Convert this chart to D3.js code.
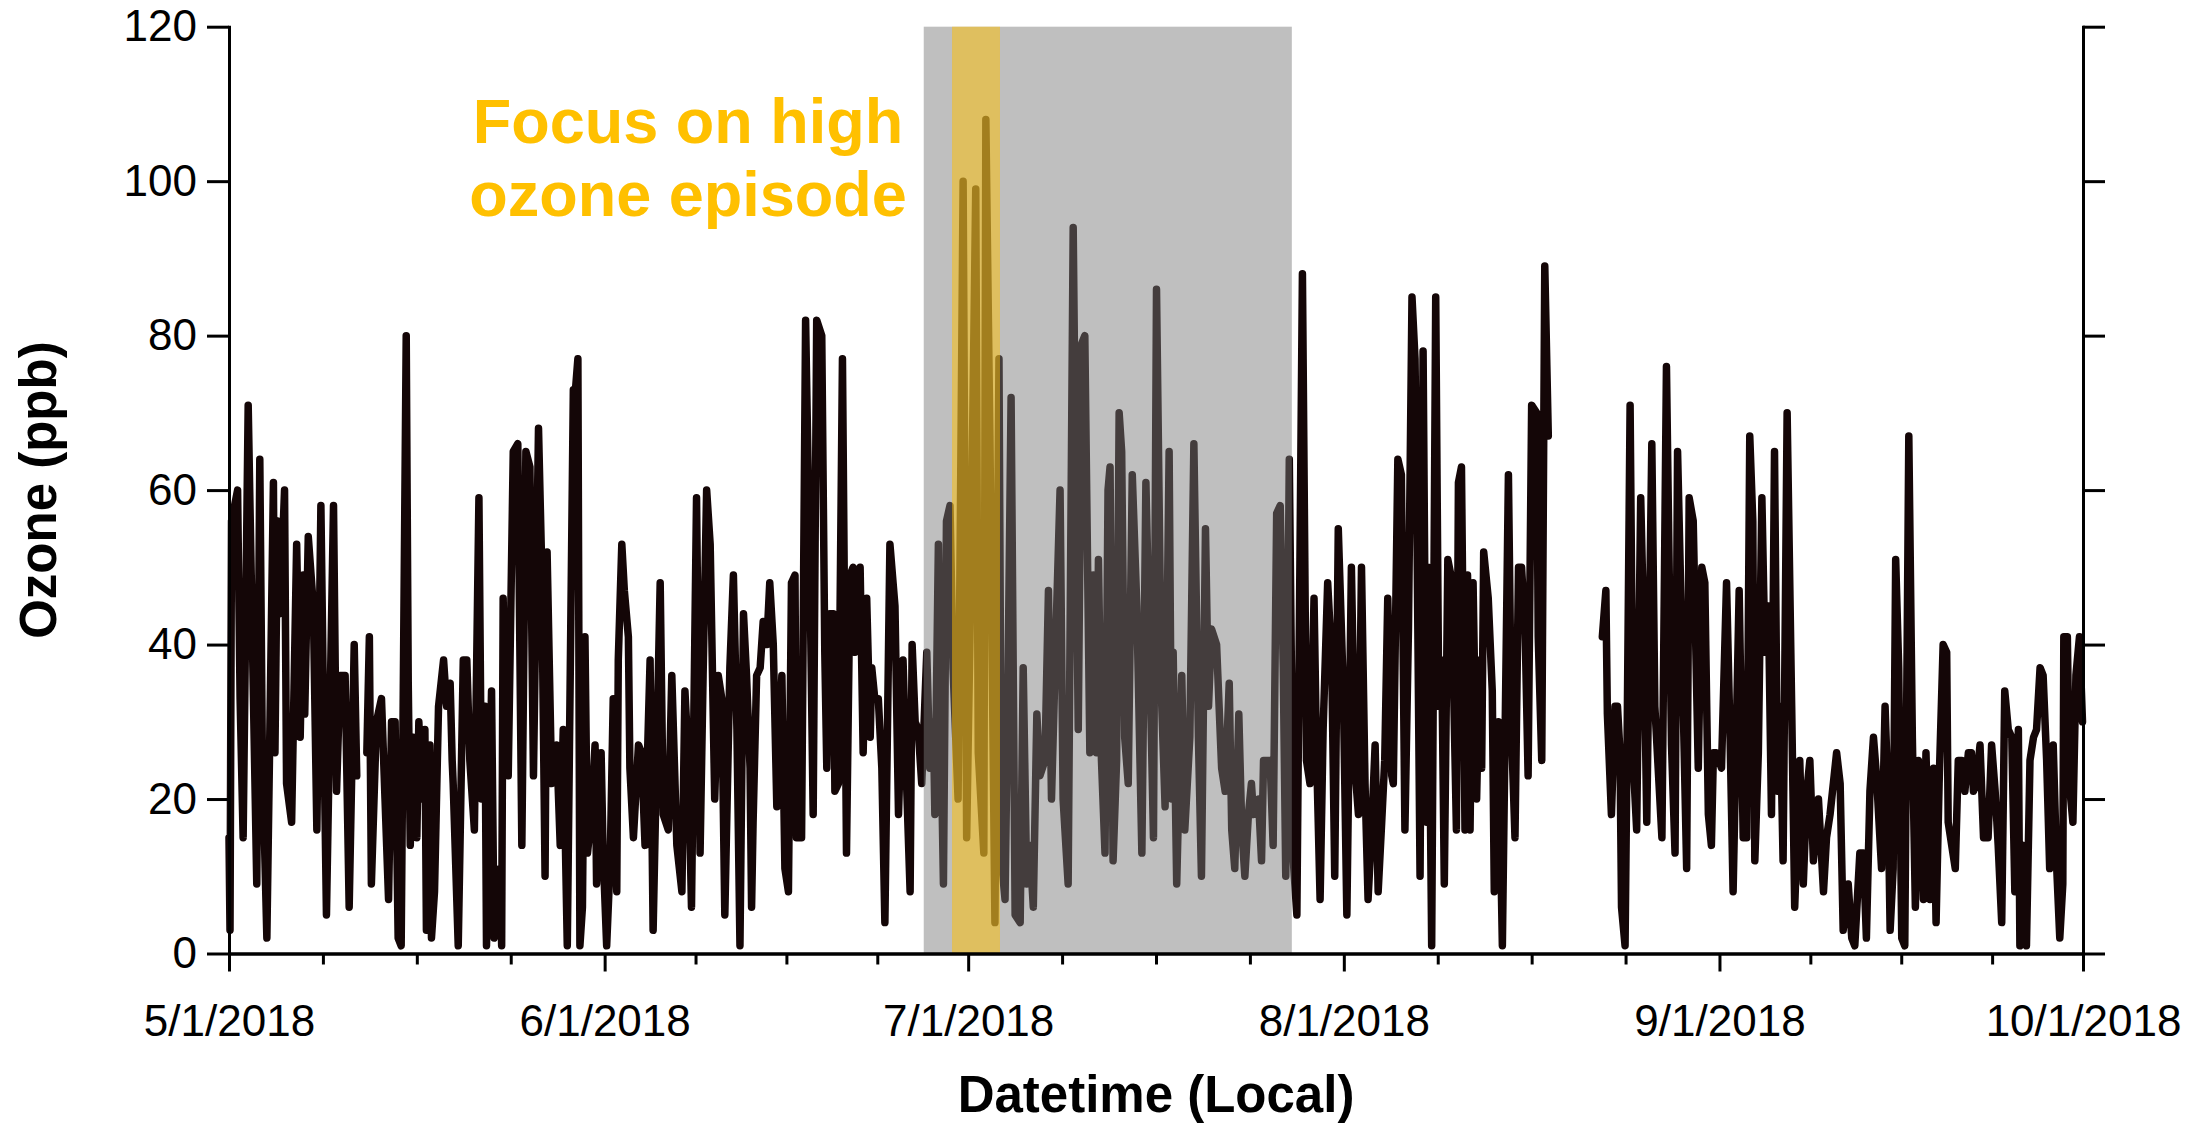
<!DOCTYPE html>
<html>
<head>
<meta charset="utf-8">
<script src="https://cdn.jsdelivr.net/npm/d3@7"></script>
<style>
  html, body { margin: 0; padding: 0; background: #fff; }
  svg { display: block; }
</style>
</head>
<body>
<svg id="chart" width="2202" height="1124"></svg>
<script>
// Ozone trace, summer 2018: [hours since 2018-05-01 00:00, ppb]; null marks a data gap.
const ozoneTrace = [
  [0,15],[2,3],[5,56],[17,60],[22,33],[28,15],[38,71],[44,49],[55,9],[61,64],[66,26],[75,2],[88,61],[91,26],[96,56],[101,44],
  [110,60],[114,22],[124,17],[134,53],[141,28],[147,49],[150,31],[157,54],[167,45],[174,16],[182,58],[187,33],[193,5],[207,58],
  [213,21],[220,36],[230,36],[238,6],[248,40],[253,23],[256,null],
  [273,26],[278,41],[282,9],[292,30],[302,33],[309,20],[316,7],[322,30],[329,30],[335,2],[341,1],[351,80],[355,35],[359,14],
  [365,28],[372,15],[376,30],[382,20],[388,29],[391,3],[398,27],[401,2],[407,8],[415,32],[425,38],[431,32],[438,35],[442,25],
  [444,22],[454,1],[464,38],[471,38],[477,25],[486,16],[495,59],[500,20],[507,32],[510,1],[520,34],[525,2],[537,11],[540,1],
  [543,46],[547,29],[553,23],[563,65],[572,66],[580,14],[588,65],[596,63],[603,23],[613,68],[619,51],[626,10],[630,52],[639,22],
  [649,27],[656,14],[662,29],[670,1],[682,73],[685,72],[691,77],[695,1],[700,6],[705,41],[710,13],[718,18],[725,27],[728,9],
  [737,26],[741,13],[748,1],[755,12],[761,33],[768,8],[771,38],[778,53],[783,47],[791,41],[794,24],[801,15],[811,27],[817,26],
  [824,14],[834,38],[840,3],[854,48],[860,18],[870,16],[877,36],[887,14],[897,8],[903,34],[910,25],[916,6],[926,59],[933,13],
  [939,36],[946,60],[953,53],[962,20],[969,36],[976,33],[982,5],[992,37],[999,49],[1006,29],[1012,1],[1019,44],[1025,36],[1032,24],
  [1035,6],[1038,17],[1045,36],[1052,37],[1058,43],[1065,40],[1071,48],[1078,40],[1085,19],[1095,36],[1101,11],[1108,8],[1114,48],
  [1121,49],[1124,15],[1134,15],[1142,82],[1151,47],[1157,18],[1164,82],[1174,80],[1180,39],[1184,24],[1190,44],[1197,44],[1200,21],
  [1207,22],[1215,77],[1223,13],[1230,49],[1236,50],[1240,39],[1250,50],[1256,26],[1263,46],[1270,28],[1273,37],[1279,33],[1286,33],
  [1293,24],[1299,4],[1309,53],[1319,45],[1326,18],[1335,38],[1342,22],[1349,8],[1353,40],[1359,30],[1365,29],[1372,22],[1375,27],
  [1382,39],[1388,24],[1395,30],[1398,18],[1405,53],[1408,36],[1415,9],[1421,56],[1428,58],[1434,37],[1444,20],[1454,100],[1461,15],
  [1468,43],[1479,99],[1484,26],[1495,13],[1499,108],[1507,67],[1517,4],[1525,77],[1530,12],[1537,7],[1543,36],[1549,72],[1557,5],
  [1567,4],[1573,37],[1580,9],[1586,14],[1593,6],[1600,31],[1606,23],[1616,25],[1623,47],[1629,20],[1639,44],[1646,60],[1652,20],
  [1662,9],[1672,94],[1682,29],[1689,79],[1695,80],[1705,26],[1712,49],[1718,26],[1722,51],[1728,25],[1735,13],[1741,60],[1745,63],
  [1751,12],[1758,25],[1763,70],[1768,65],[1774,28],[1781,22],[1789,62],[1798,45],[1808,13],[1816,61],[1824,37],[1831,15],[1837,86],
  [1847,33],[1854,19],[1862,65],[1867,20],[1870,39],[1877,9],[1887,36],[1893,16],[1903,28],[1911,66],[1920,28],[1926,10],[1934,55],
  [1940,32],[1946,42],[1956,40],[1966,24],[1973,21],[1981,35],[1986,16],[1992,11],[2000,31],[2006,16],[2012,10],[2019,18],[2025,22],
  [2029,18],[2039,20],[2045,12],[2049,25],[2058,25],[2062,25],[2068,14],[2075,57],[2082,58],[2088,37],[2093,10],[2100,64],[2108,12],
  [2115,5],[2126,88],[2134,25],[2141,22],[2149,46],[2154,26],[2161,7],[2167,29],[2176,48],[2184,38],[2190,10],[2197,55],[2207,34],
  [2214,5],[2223,50],[2230,24],[2237,18],[2243,50],[2250,22],[2256,7],[2263,16],[2270,27],[2276,8],[2283,17],[2289,25],[2295,46],
  [2303,23],[2306,22],[2315,64],[2322,62],[2329,16],[2336,42],[2343,85],[2349,77],[2352,61],[2359,10],[2365,78],[2372,17],[2375,50],
  [2382,1],[2390,85],[2396,32],[2402,38],[2407,9],[2414,51],[2420,49],[2425,36],[2431,16],[2435,61],[2441,63],[2448,16],[2453,49],
  [2458,16],[2464,48],[2471,20],[2477,38],[2481,24],[2485,52],[2494,46],[2502,34],[2506,8],[2514,30],[2522,1],[2534,62],[2540,29],
  [2547,15],[2554,50],[2560,50],[2567,42],[2573,23],[2580,71],[2590,70],[2593,41],[2600,25],[2606,89],[2613,67],[2614,null],
  [2720,41],[2727,47],[2730,31],[2738,18],[2745,32],[2750,32],[2755,26],[2758,6],[2765,1],[2768,20],[2775,71],[2781,25],[2788,16],
  [2796,59],[2803,39],[2808,17],[2818,66],[2824,32],[2838,15],[2847,76],[2857,27],[2864,13],[2869,65],[2877,42],[2887,11],[2892,59],
  [2900,56],[2910,24],[2917,50],[2923,48],[2930,18],[2936,14],[2940,26],[2946,26],[2956,24],[2966,48],[2973,28],[2979,8],[2991,47],
  [2999,15],[3006,15],[3012,67],[3018,56],[3022,12],[3029,26],[3036,59],[3042,39],[3049,45],[3055,18],[3061,65],[3067,21],[3072,32],
  [3078,12],[3086,70],[3095,32],[3101,6],[3111,25],[3118,9],[3125,21],[3131,25],[3138,12],[3148,20],[3158,8],[3164,15],[3171,18],
  [3184,26],[3191,22],[3197,3],[3207,9],[3214,2],[3220,1],[3230,13],[3237,13],[3243,2],[3250,21],[3257,28],[3263,23],[3273,11],
  [3280,32],[3286,20],[3290,3],[3296,11],[3301,51],[3307,37],[3313,2],[3319,1],[3327,67],[3334,28],[3340,6],[3346,25],[3352,18],
  [3356,7],[3361,26],[3369,7],[3376,24],[3381,4],[3387,22],[3395,40],[3402,39],[3405,17],[3412,14],[3419,11],[3425,25],[3432,25],
  [3438,21],[3445,26],[3451,26],[3455,21],[3461,22],[3468,27],[3475,15],[3484,15],[3491,27],[3498,21],[3504,14],[3511,4],[3517,34],
  [3524,29],[3531,28],[3537,8],[3544,29],[3547,1],[3554,14],[3560,1],[3567,25],[3574,28],[3580,29],[3587,37],[3593,36],[3600,25],
  [3606,11],[3613,27],[3620,11],[3626,2],[3632,9],[3634,41],[3641,41],[3645,22],[3652,17],[3658,36],[3665,41],[3671,30]
];

const recordStart = "2018-05-01T00:00";
const monthStarts = ["2018-05-01T00:00", "2018-06-01T00:00", "2018-07-01T00:00",
                     "2018-08-01T00:00", "2018-09-01T00:00", "2018-10-01T00:00"];
const ozoneTicks = [0, 20, 40, 60, 80, 100, 120];
const studyWindow = ["2018-06-27T08:00", "2018-07-27T17:00"];
const episodeWindow = ["2018-06-29T16:00", "2018-07-03T15:00"];
const episodeNote = ["Focus on high", "ozone episode"];
const xTitle = "Datetime (Local)";
const yTitle = "Ozone (ppb)";

const FONT = "'Liberation Sans', Arial, Helvetica, sans-serif";
const parse = d3.timeParse("%Y-%m-%dT%H:%M");
const t0 = parse(recordStart);
const months = monthStarts.map(parse);

const svg = d3.select("#chart");
svg.append("rect").attr("width", 2202).attr("height", 1124).attr("fill", "#fff");

const x = d3.scaleTime().domain([months[0], months[months.length - 1]]).range([229, 2083]);
const y = d3.scaleLinear().domain([0, 120]).range([953.5, 26.7]);

const points = ozoneTrace.map(([h, v]) => ({ t: d3.timeHour.offset(t0, h), v }));

// ozone trace
svg.append("path")
  .datum(points)
  .attr("fill", "none")
  .attr("stroke", "#140607")
  .attr("stroke-width", 7.5)
  .attr("stroke-linejoin", "round")
  .attr("stroke-linecap", "round")
  .attr("d", d3.line().defined(d => d.v !== null).x(d => x(d.t)).y(d => y(d.v)));

// shaded study window and highlighted episode
const [s0, s1] = studyWindow.map(parse);
svg.append("rect")
  .attr("x", x(s0)).attr("width", x(s1) - x(s0))
  .attr("y", y(120)).attr("height", y(0) - y(120))
  .attr("fill", "#797979").attr("fill-opacity", 0.48);

const [e0, e1] = episodeWindow.map(parse);
svg.append("rect")
  .attr("x", x(e0)).attr("width", x(e1) - x(e0))
  .attr("y", y(120)).attr("height", y(0) - y(120))
  .attr("fill", "#ffc000").attr("fill-opacity", 0.5);

// axes
function styleAxis(g) {
  g.selectAll(".domain").attr("stroke", "#000").attr("stroke-width", 3).attr("stroke-linecap", "square");
  g.selectAll(".tick line").attr("stroke", "#000").attr("stroke-width", 3);
  g.selectAll(".tick text").attr("fill", "#000").style("font-family", FONT).style("font-size", "44px");
}

svg.append("g")
  .attr("transform", `translate(${x.range()[0]},0)`)
  .call(d3.axisLeft(y).tickValues(ozoneTicks).tickSize(22).tickSizeOuter(0).tickPadding(10))
  .call(styleAxis);

svg.append("g")
  .attr("transform", `translate(${x.range()[1]},0)`)
  .call(d3.axisRight(y).tickValues(ozoneTicks).tickSize(22).tickSizeOuter(0).tickFormat(""))
  .call(styleAxis);

// quarter-month minor ticks between month starts
const minorTicks = [];
for (let i = 0; i < months.length - 1; i++) {
  const a = months[i].getTime(), b = months[i + 1].getTime();
  for (let k = 1; k < 4; k++) minorTicks.push(new Date(a + (b - a) * k / 4));
}

svg.append("g")
  .attr("transform", `translate(0,${y(0)})`)
  .call(d3.axisBottom(x).tickValues(minorTicks).tickSize(11).tickSizeOuter(0).tickFormat(""))
  .call(styleAxis);

svg.append("g")
  .attr("transform", `translate(0,${y(0)})`)
  .call(d3.axisBottom(x).tickValues(months).tickSize(18).tickSizeOuter(0)
    .tickPadding(33).tickFormat(d3.timeFormat("%-m/%-d/%Y")))
  .call(styleAxis);

// axis titles
svg.append("text")
  .attr("x", (x.range()[0] + x.range()[1]) / 2).attr("y", 1112)
  .attr("text-anchor", "middle")
  .style("font-family", FONT).style("font-size", "51px").style("font-weight", "bold")
  .attr("fill", "#000")
  .text(xTitle);

svg.append("text")
  .attr("transform", `translate(56,${(y(0) + y(120)) / 2}) rotate(-90)`)
  .attr("text-anchor", "middle")
  .style("font-family", FONT).style("font-size", "51px").style("font-weight", "bold")
  .attr("fill", "#000")
  .text(yTitle);

// episode annotation
svg.append("text")
  .attr("text-anchor", "middle")
  .style("font-family", FONT).style("font-size", "63px").style("font-weight", "bold")
  .attr("fill", "#ffc000")
  .selectAll("tspan")
  .data(episodeNote)
  .join("tspan")
  .attr("x", 688)
  .attr("y", (d, i) => 143 + i * 73)
  .text(d => d);
</script>
</body>
</html>
